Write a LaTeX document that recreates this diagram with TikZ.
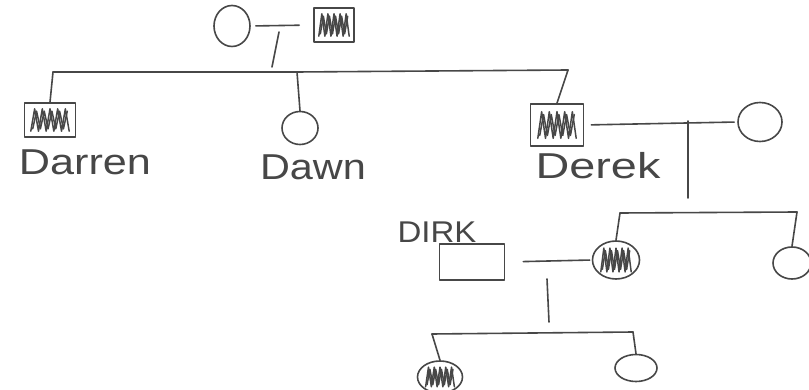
\documentclass[tikz,border=0pt]{standalone}
\usepackage{fontspec}
\setmainfont{Liberation Sans}
\usetikzlibrary{shapes.geometric,calc}
\tikzset{
  ink/.style={draw=black!72, line width=1.6pt, line cap=round, line join=round},
  male/.style={ink, rectangle, inner sep=0pt},
  female/.style={ink, ellipse, inner sep=0pt},
  scrib/.style={draw=black!72, line width=1.5pt, line cap=round, line join=round},
  conn/.style={ink},
  label/.style={text=black!72, inner sep=0pt, font=\fontsize{36}{38}\selectfont}
}
\newcommand\pedscrib[3]{%
  \begin{scope}[shift={(#1.center)}, xscale=#2, yscale=#3]
    \draw[scrib] (-0.8,0.7) \foreach \i in {1,...,10}{ -- ({-0.8+0.16*\i},{0.7*cos(180*\i)}) };
    \draw[scrib] (-0.72,0.55) \foreach \i in {1,...,9}{ -- ({-0.72+0.16*\i},{0.55*cos(180*\i)}) };
  \end{scope}}
\begin{document}
\begin{tikzpicture}[x=1pt, y=-1pt]
\useasboundingbox[fill=white] (0,0) rectangle (809,390);

% generation I
\node[female, minimum width=36pt, minimum height=41pt] (gm) at (232,26) {};
\node[male, minimum width=40pt, minimum height=34pt] (gf) at (334,25) {};
\pedscrib{gf}{19}{16}
\draw[conn, shorten <=5pt, shorten >=14pt] (gm.east) -- (gf.west);
\coordinate (d1a) at (279,32);
\coordinate (d1b) at (272,67);
\draw[conn] (d1a) -- (d1b);
\coordinate (s1L) at (53,72);
\coordinate (s1M) at (297,72);
\coordinate (s1R) at (568,70);
\draw[conn] (s1L) -- (s1M) -- (s1R);

% generation II
\node[male, minimum width=51pt, minimum height=34pt] (darren) at (50,120) {};
\pedscrib{darren}{24}{16}
\node[label, xscale=1.2] (tdarren) at (85,162) {Darren};
\node[female, minimum width=36pt, minimum height=33pt] (dawn) at (300,128) {};
\node[label, xscale=1.15] (tdawn) at (313,167) {Dawn};
\node[male, minimum width=53pt, minimum height=42pt] (derek) at (557,125) {};
\pedscrib{derek}{24}{19}
\node[label, xscale=1.3] (tderek) at (598,166) {Derek};
\node[female, minimum width=44pt, minimum height=39pt] (wife) at (760,122) {};
\draw[conn] (s1L) -- (darren.north);
\draw[conn] (s1M) -- (dawn.north);
\draw[conn] (s1R) -- (derek.north);
\draw[conn, shorten <=7pt, shorten >=3pt] (derek.east) -- (wife.west);
\coordinate (d2a) at (688,121);
\coordinate (d2b) at (688,198);
\draw[conn] (d2a) -- (d2b);
\coordinate (s2L) at (620,213);
\coordinate (s2R) at (797,212);
\draw[conn] (s2L) -- (s2R);

% generation III
\node[female, minimum width=47pt, minimum height=38pt] (dau) at (616,260) {};
\pedscrib{dau}{19}{17}
\node[female, minimum width=38pt, minimum height=32pt] (dau2) at (792,263) {};
\draw[conn] (s2L) -- (dau.north);
\draw[conn] (s2R) -- (dau2.north);
\node[male, minimum width=65pt, minimum height=36pt] (dirk) at (472,262) {};
\node[label, font=\fontsize{30}{32}\selectfont, xscale=1.1] (tdirk) at (437,232) {DIRK};
\draw[conn, shorten <=18pt, shorten >=2pt] (dirk.east) -- (dau.west);
\coordinate (d3a) at (547,279);
\coordinate (d3b) at (549,322);
\draw[conn] (d3a) -- (d3b);
\coordinate (s3L) at (432,334);
\coordinate (s3R) at (633,332);
\draw[conn] (s3L) -- (s3R);

% generation IV
\node[female, minimum width=45pt, minimum height=32pt] (c1) at (440,377) {};
\pedscrib{c1}{18}{14}
\node[female, minimum width=42pt, minimum height=27pt] (c2) at (636,368) {};
\draw[conn] (s3L) -- (c1.north);
\draw[conn] (s3R) -- (c2.north);
\end{tikzpicture}
\end{document}
